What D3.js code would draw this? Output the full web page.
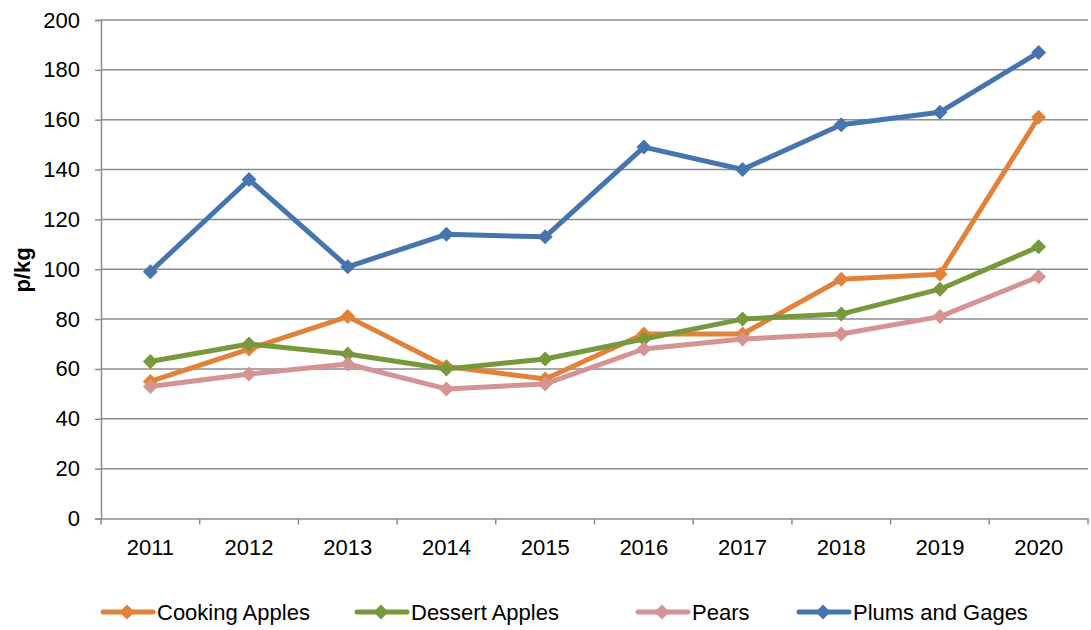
<!DOCTYPE html>
<html><head><meta charset="utf-8">
<script src="https://cdn.jsdelivr.net/npm/d3@7"></script>
<style>body{margin:0;background:#fff}svg{display:block;font-family:"Liberation Sans",Arial,sans-serif}</style>
</head><body><svg id="c" width="1091" height="630"></svg>
<script>
const years = ["2011","2012","2013","2014","2015","2016","2017","2018","2019","2020"];
const cookingApples = [55,68,81,61,56,74,74,96,98,161];
const dessertApples = [63,70,66,60,64,72,80,82,92,109];
const pears = [53,58,62,52,54,68,72,74,81,97];
const plumsAndGages = [99,136,101,114,113,149,140,158,163,187];
const seriesNames = ["Cooking Apples","Dessert Apples","Pears","Plums and Gages"];
const yTicks = [0,20,40,60,80,100,120,140,160,180,200];

const colors = ["#E0823A","#77983B","#D69393","#4675AE"];
const seriesData = [cookingApples, dessertApples, pears, plumsAndGages];

const FS = 22;
const FF = "Liberation Sans, Arial, sans-serif";
const svg = d3.select("#c");
const L = 101, R = 1088, T = 20, B = 518.5;
const x = d3.scaleBand().domain(years).range([L, R]);
const y = d3.scaleLinear().domain([0,200]).range([B, T]);
const grid = "#8c8c8c";

// gridlines
svg.append("g").selectAll("line").data(yTicks.filter(d=>d>0)).join("line")
  .attr("x1", L).attr("x2", R).attr("y1", d=>y(d)).attr("y2", d=>y(d))
  .attr("stroke", grid).attr("stroke-width", 1.5);

// y axis
const ya = svg.append("g").attr("transform", `translate(${L},0)`)
  .call(d3.axisLeft(y).tickValues(yTicks).tickSize(6).tickPadding(15));
ya.attr("font-size", FS).attr("font-family", FF);
ya.select(".domain").attr("stroke", grid).attr("stroke-width", 1.5);
ya.selectAll(".tick line").attr("stroke", grid).attr("stroke-width", 1.5);
ya.selectAll("text").attr("fill", "#000");

// x axis
const xa = svg.append("g").attr("transform", `translate(0,${B})`)
  .call(d3.axisBottom(x).tickSize(0).tickPadding(20.5));
xa.attr("font-size", FS).attr("font-family", FF);
xa.select(".domain").attr("stroke", grid).attr("stroke-width", 1.5);
xa.selectAll("text").attr("fill", "#000");
// category boundary ticks
const bounds = years.map(d=>x(d)).concat([R]);
svg.append("g").selectAll("line").data(bounds).join("line")
  .attr("x1", d=>d).attr("x2", d=>d).attr("y1", B).attr("y2", B+6)
  .attr("stroke", grid).attr("stroke-width", 1.5);

// y title
svg.append("text").attr("transform", "translate(22,270) rotate(-90)")
  .attr("text-anchor","middle").attr("dy","0.35em").attr("font-size", FS).attr("font-weight","bold").text("p/kg");

const line = d3.line().x((d,i)=>x(years[i]) + x.bandwidth()/2).y(d=>y(d));
const dpath = "M0,-7.5L7.5,0L0,7.5L-7.5,0Z";

seriesData.forEach((vals, si) => {
  const g = svg.append("g");
  g.append("path").datum(vals).attr("d", line).attr("fill","none")
    .attr("stroke", colors[si]).attr("stroke-width", 5).attr("stroke-linejoin","round");
  g.selectAll("path.m").data(vals).join("path").attr("class","m")
    .attr("d", dpath)
    .attr("transform", (d,i)=>`translate(${x(years[i]) + x.bandwidth()/2},${y(d)})`)
    .attr("fill", colors[si]);
});

// legend
const legX = [101, 355, 636, 797];
const legY = 612;
seriesNames.forEach((name, i) => {
  const g = svg.append("g").attr("transform", `translate(${legX[i]},${legY})`);
  g.append("line").attr("x1", 2).attr("x2", 52).attr("y1", 0).attr("y2", 0)
    .attr("stroke", colors[i]).attr("stroke-width", 5).attr("stroke-linecap","round");
  g.append("path").attr("d", dpath).attr("transform","translate(26,0)").attr("fill", colors[i]);
  g.append("text").attr("x", 56).attr("y", 0).attr("dy","0.35em").attr("font-size", FS).text(name);
});
</script></body></html>
